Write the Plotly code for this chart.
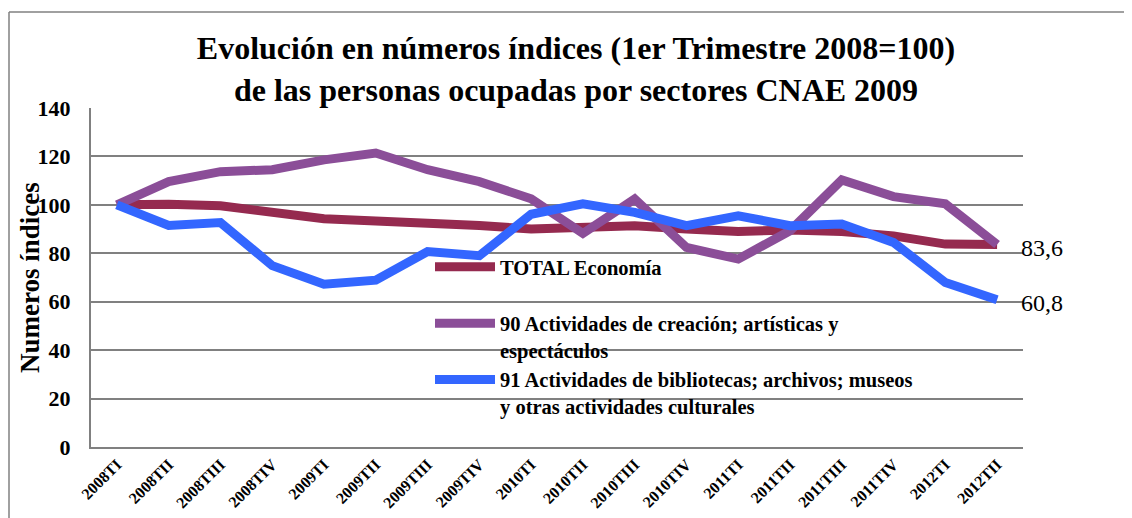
import plotly.graph_objects as go

categories = ["2008TI", "2008TII", "2008TIII", "2008TIV", "2009TI", "2009TII",
              "2009TIII", "2009TIV", "2010TI", "2010TII", "2010TIII", "2010TIV",
              "2011TI", "2011TII", "2011TIII", "2011TIV", "2012TI", "2012TII"]

total_economia = [100, 100.3, 99.6, 97.0, 94.3, 93.3, 92.7, 91.5, 90.0, 90.7,
                  91.4, 90.0, 89.0, 89.6, 89.0, 87.2, 83.8, 83.6]
act_90 = [100, 109.6, 113.7, 114.5, 118.6, 121.4, 114.5, 109.6, 102.5, 88.2,
          102.4, 82.4, 77.6, 89.3, 110.3, 103.4, 100.4, 83.6]
act_91 = [100, 91.5, 92.7, 74.9, 67.2, 68.9, 80.7, 79.0, 96.1, 100.4,
          96.9, 91.4, 95.5, 91.4, 92.1, 84.5, 67.9, 60.8]

names = ["TOTAL Economía<br> ",
         "90 Actividades de creación; artísticas y<br>espectáculos",
         "91 Actividades de bibliotecas; archivos; museos<br>y otras actividades culturales"]
colors = ["#952A4F", "#8B4E98", "#3366FF"]
series = [total_economia, act_90, act_91]

y_ticks = [0, 20, 40, 60, 80, 100, 120, 140]

SERIF = "Liberation Serif, Times New Roman, serif"

# page body has an 8px margin: figure is laid out relative to that offset
OFF = 8
L, T, R, B = 91 - OFF, 108 - OFF, 109, 71

fig = go.Figure()
for name, vals, col in zip(names, series, colors):
    fig.add_trace(go.Scatter(x=categories, y=vals, mode="lines", name=name,
                             line=dict(color=col, width=9)))

# end labels
for vals in (act_90, act_91):
    fig.add_annotation(x=categories[-1], y=vals[-1],
                       text=f"{vals[-1]:.1f}".replace(".", ","),
                       showarrow=False, xanchor="left", yanchor="middle",
                       xshift=22, yshift=-3,
                       font=dict(family=SERIF, size=24, color="black"))

# y axis title
fig.add_annotation(xref="paper", yref="paper", x=(30 - 91) / 932, y=(447 - 278) / 339,
                   text="<b>Numeros índices</b>", textangle=-90, showarrow=False,
                   xanchor="center", yanchor="middle",
                   font=dict(family=SERIF, size=27, color="black"))

# outer frame (cut off at right and bottom like the reference)
frame = dict(type="line", xref="paper", yref="paper",
             line=dict(color="#808080", width=1.5))
fig.add_shape(**frame, x0=(9 - 91) / 932, x1=1.2, y0=(447 - 12) / 339, y1=(447 - 12) / 339)
fig.add_shape(**frame, x0=(9 - 91) / 932, x1=(9 - 91) / 932, y0=(447 - 12) / 339, y1=-0.3)

fig.update_layout(
    width=1132 - OFF, height=518 - OFF,
    margin=dict(l=L, r=R, t=T, b=B),
    paper_bgcolor="white", plot_bgcolor="white",
    title=dict(text="<b>Evolución en números índices (1er Trimestre 2008=100)<br>"
                    "de las personas ocupadas por sectores CNAE 2009</b>",
               x=(576 - OFF) / (1132 - OFF), xanchor="center", xref="container",
               y=1 - (59 - OFF) / (518 - OFF), yanchor="top", yref="container",
               font=dict(family=SERIF, size=32, color="black")),
    legend=dict(x=(430 - 91) / 932, y=(447 - 247) / 339, xanchor="left",
                yanchor="top", bgcolor="rgba(0,0,0,0)", itemwidth=60,
                tracegroupgap=0, valign="top",
                font=dict(family=SERIF, size=20.5, color="black", weight="bold")),
    xaxis=dict(range=[-0.5, 17.5], tickangle=-45, showgrid=False, showline=True,
               linecolor="#808080", linewidth=2, ticks="", automargin=False,
               tickfont=dict(family=SERIF, size=16, color="black", weight="bold")),
    yaxis=dict(range=[0, 140], tickvals=y_ticks, showgrid=True,
               gridcolor="#808080", gridwidth=2, showline=True,
               linecolor="#808080", linewidth=2, zeroline=False,
               ticks="", ticklabelstandoff=14, automargin=False,
               tickfont=dict(family=SERIF, size=22, color="black", weight="bold")),
    showlegend=True,
)

fig.write_html("out.html")
